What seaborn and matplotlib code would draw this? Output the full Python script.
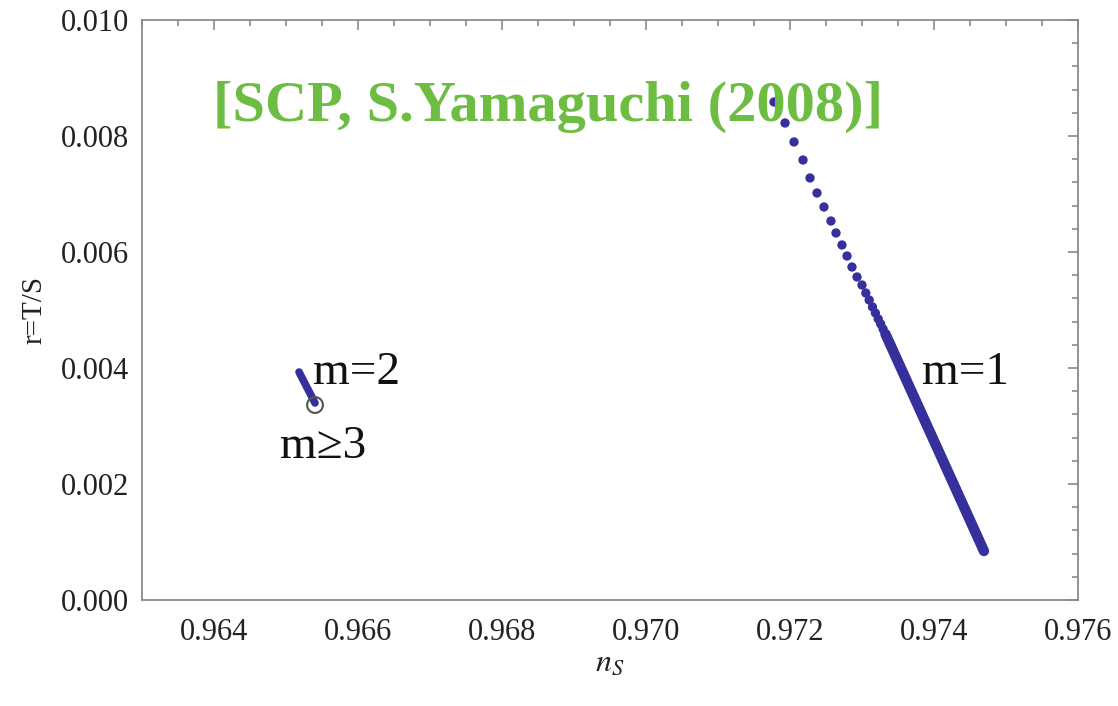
import matplotlib
matplotlib.use("Agg")
import matplotlib.pyplot as plt
from matplotlib.ticker import MultipleLocator, FormatStrFormatter
import seaborn as sns
import pandas as pd

# m=1 branch: individually resolved points (upper part of the curve)
m1_ns = [0.971778, 0.971931, 0.972056, 0.972181, 0.972278, 0.972375, 0.972472,
         0.972569, 0.972639, 0.972722, 0.972792, 0.972861, 0.972931, 0.973000,
         0.973053, 0.973100, 0.973146, 0.973186, 0.973226, 0.973260, 0.973293,
         0.973326]
m1_r = [0.008586, 0.008224, 0.007897, 0.007586, 0.007276, 0.007017, 0.006776,
        0.006534, 0.006328, 0.006121, 0.005931, 0.005741, 0.005569, 0.005431,
        0.005293, 0.005172, 0.005052, 0.004948, 0.004845, 0.004759, 0.004672,
        0.004586]
# m=1 branch: densely packed lower part
m1_tail_ns = [0.973326, 0.974007, 0.974694]
m1_tail_r = [0.004586, 0.002724, 0.000845]

# m=2 branch and the m>=3 point
m2_ns = [0.965181, 0.965403]
m2_r = [0.003931, 0.003397]
m3_ns = [0.965403]
m3_r = [0.003362]

xticks = [0.964, 0.966, 0.968, 0.970, 0.972, 0.974, 0.976]
yticks = [0.000, 0.002, 0.004, 0.006, 0.008, 0.010]

sns.set_theme(style="white")
serif = ["Liberation Serif", "DejaVu Serif"]
plt.rcParams["font.family"] = serif
plt.rcParams["mathtext.fontset"] = "stix"

blue = "#35309c"
frame = "#8a8a8a"
textc = "#222222"

fig = plt.figure(figsize=(11.18, 7.06), dpi=100)
ax = fig.add_axes([0.1270, 0.1501, 0.9642 - 0.1270, 0.9717 - 0.1501])

df1 = pd.DataFrame({"ns": m1_ns, "r": m1_r})
df1t = pd.DataFrame({"ns": m1_tail_ns, "r": m1_tail_r})
df2 = pd.DataFrame({"ns": m2_ns, "r": m2_r})
df3 = pd.DataFrame({"ns": m3_ns, "r": m3_r})

sns.lineplot(data=df1t, x="ns", y="r", ax=ax, color=blue, linewidth=7.5,
             solid_capstyle="round", sort=False, zorder=3)
sns.scatterplot(data=df1, x="ns", y="r", ax=ax, color=blue, s=45,
                edgecolor="none", linewidth=0, zorder=3)
sns.lineplot(data=df2, x="ns", y="r", ax=ax, color=blue, linewidth=5.5,
             solid_capstyle="round", sort=False, zorder=3)
sns.scatterplot(data=df3, x="ns", y="r", ax=ax, s=130, facecolor="none",
                edgecolor="#555555", linewidth=1.5, zorder=4)

ax.set_xlim(0.963, 0.976)
ax.set_ylim(0.0, 0.010)
ax.set_xticks(xticks)
ax.set_yticks(yticks)
ax.xaxis.set_major_formatter(FormatStrFormatter("%.3f"))
ax.yaxis.set_major_formatter(FormatStrFormatter("%.3f"))
ax.xaxis.set_minor_locator(MultipleLocator(0.0005))
ax.yaxis.set_minor_locator(MultipleLocator(0.0004))

ax.tick_params(which="both", direction="in", top=True, right=True,
               color=frame, width=1.2)
ax.tick_params(which="major", length=7)
ax.tick_params(which="minor", length=4.5)
ax.tick_params(axis="x", which="major", pad=13, labelsize=22, labelcolor=textc)
ax.tick_params(axis="y", which="major", pad=9, labelsize=22, labelcolor=textc)
for s in ax.spines.values():
    s.set_color(frame)
    s.set_linewidth(1.3)

ax.set_xlabel(r"$n_S$", fontsize=23, color=textc, labelpad=1)
ax.set_ylabel("r=T/S", fontsize=21, color=textc, labelpad=10)

ax.text(0.965375, 0.003914, "m=2", fontsize=34, color="#111111",
        va="center", ha="left", family=serif)
ax.text(0.964917, 0.002638, "m≥3", fontsize=34, color="#111111",
        va="center", ha="left", family=serif)
ax.text(0.973833, 0.003914, "m=1", fontsize=34, color="#111111",
        va="center", ha="left", family=serif)
ax.text(0.963986, 0.008500, "[SCP, S.Yamaguchi (2008)]", fontsize=42,
        fontweight="bold", color="#6dbd43", va="center", ha="left",
        family=serif, zorder=5)

fig.savefig("out.png", dpi=100, facecolor="white")
